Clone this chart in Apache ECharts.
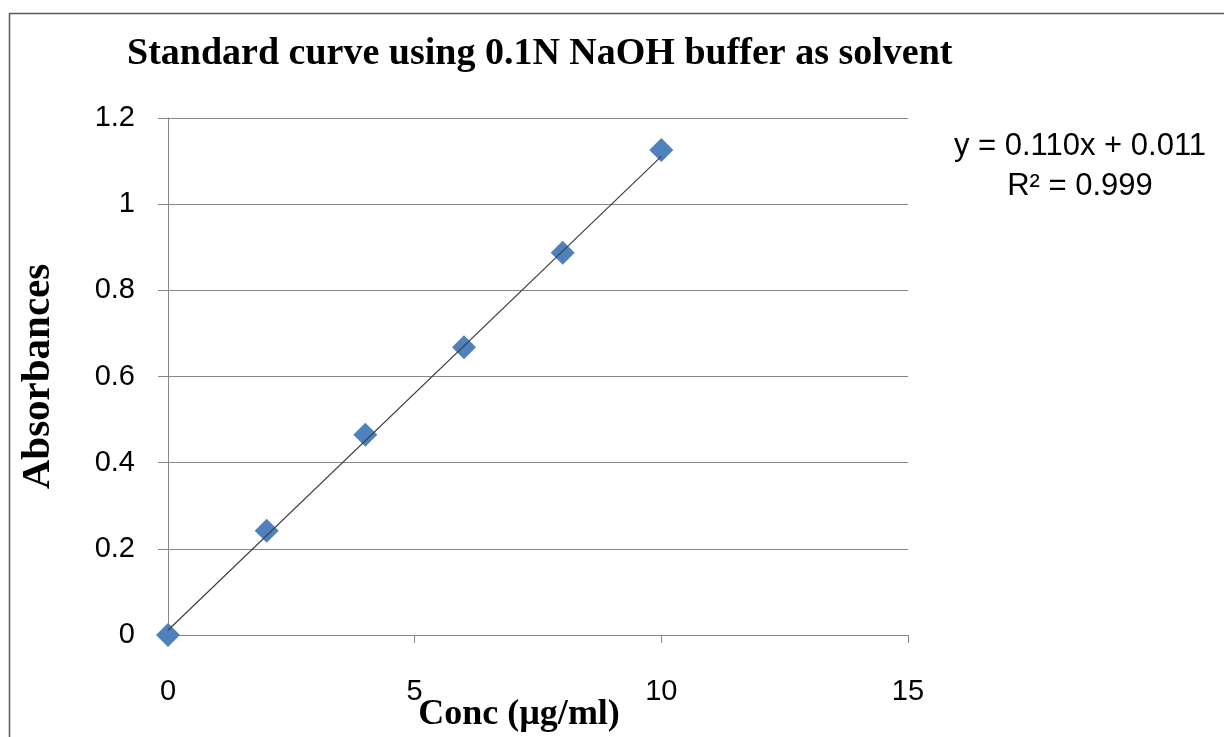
<!DOCTYPE html>
<html>
<head>
<meta charset="utf-8">
<script src="https://cdn.jsdelivr.net/npm/echarts@6/dist/echarts.min.js"></script>
<style>
  html, body { margin: 0; padding: 0; background: #fff; }
  #chart { width: 1224px; height: 737px; }
</style>
</head>
<body>
<div id="chart"></div>
<script>
// concentration (ug/ml) and measured absorbance
var conc = [0, 2, 4, 6, 8, 10];
var absorbance = [0, 0.242, 0.465, 0.668, 0.887, 1.126];
// linear trendline y = 0.110x + 0.011, drawn over the data range
var trendX = [0, 10];
var trendY = [0.011, 1.111];
var equationLines = ['y = 0.110x + 0.011', 'R\u00b2 = 0.999'];

var chart = echarts.init(document.getElementById('chart'));

var points = conc.map(function (c, i) { return [c, absorbance[i]]; });
var trend = trendX.map(function (x, i) { return [x, trendY[i]]; });

var serif = '"Liberation Serif", "Times New Roman", serif';
var sans = '"Liberation Sans", Arial, sans-serif';

var option = {
	animation: false,
	backgroundColor: '#fff',
	title: {
		text: 'Standard curve using 0.1N NaOH buffer as solvent',
		left: 122,
		top: 30,
		textStyle: {
			fontFamily: serif,
			fontWeight: 'bold',
			fontSize: 38,
			color: '#000'
		}
	},
	grid: {
		left: 168,
		top: 118,
		width: 740,
		height: 517,
		outerBoundsMode: 'none',
		containLabel: false
	},
	xAxis: {
		type: 'value',
		min: 0,
		max: 15,
		interval: 5,
		name: 'Conc (\u00b5g/ml)',
		nameLocation: 'middle',
		nameGap: 62,
		nameMoveOverlap: false,
		nameTextStyle: {
			fontFamily: serif,
			fontWeight: 'bold',
			fontSize: 36,
			color: '#000',
			padding: [0, 38, 0, 0]
		},
		axisLine: { lineStyle: { color: '#868686' } },
		axisTick: { show: true, inside: false, length: 8, lineStyle: { color: '#868686' } },
		axisLabel: { margin: 42, fontFamily: sans, fontSize: 29, color: '#000' },
		splitLine: { show: false }
	},
	yAxis: {
		type: 'value',
		min: 0,
		max: 1.2,
		interval: 0.2,
		name: 'Absorbances',
		nameLocation: 'middle',
		nameRotate: 90,
		nameGap: 109,
		nameMoveOverlap: false,
		nameTextStyle: {
			fontFamily: serif,
			fontWeight: 'bold',
			fontSize: 41,
			color: '#000'
		},
		axisLine: { show: true, lineStyle: { color: '#868686' } },
		axisTick: { show: true, inside: false, length: 10, lineStyle: { color: '#868686' } },
		axisLabel: { margin: 33, fontFamily: sans, fontSize: 29, color: '#000' },
		splitLine: { show: true, lineStyle: { color: '#868686', width: 1 } }
	},
	series: [
		{
			name: 'Linear',
			type: 'line',
			data: trend,
			symbol: 'none',
			lineStyle: { color: '#404040', width: 1.2 },
			z: 3
		},
		{
			name: 'Absorbance',
			type: 'scatter',
			data: points,
			symbol: 'diamond',
			symbolSize: 24,
			itemStyle: { color: '#4f81bd', opacity: 1 },
			z: 2
		}
	],
	graphic: [
		{
			type: 'rect',
			left: 7,
			top: 11,
			shape: { width: 1300, height: 800 },
			style: { fill: 'none', stroke: '#595959', lineWidth: 1.5 },
			silent: true
		},
		{
			type: 'text',
			x: 1080,
			y: 126,
			style: {
				text: equationLines.join('\n'),
				font: '31px ' + sans,
				fill: '#000',
				align: 'center',
				lineHeight: 40
			}
		}
	]
};

chart.setOption(option);
</script>
</body>
</html>
